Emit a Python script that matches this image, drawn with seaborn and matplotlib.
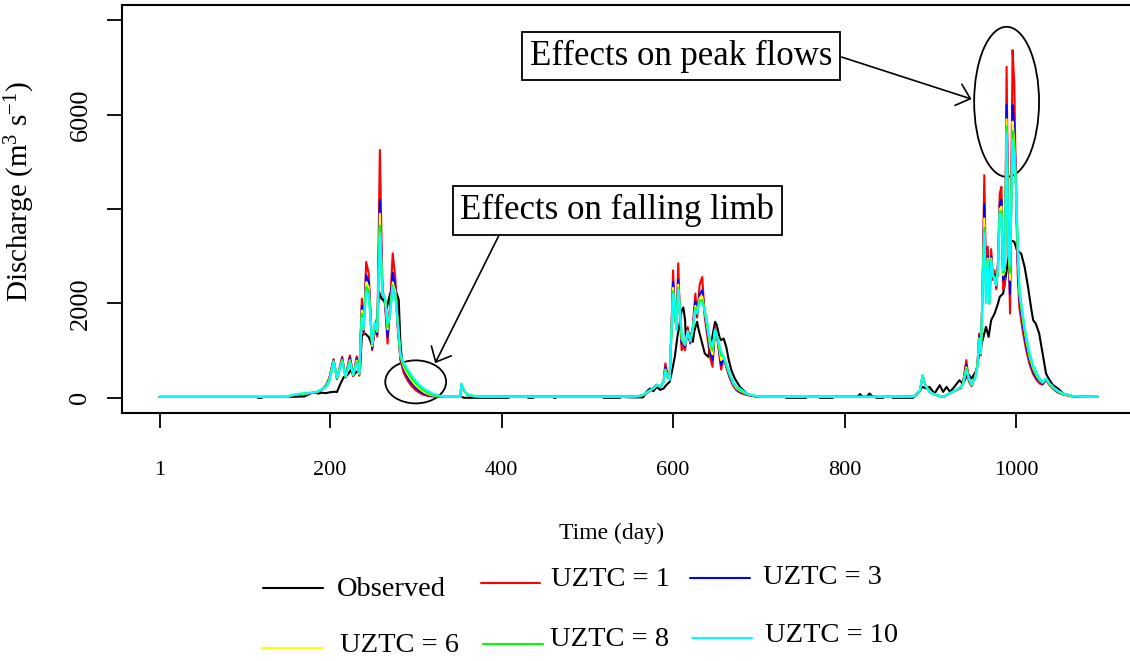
import matplotlib
matplotlib.use("Agg")
import matplotlib.pyplot as plt
from matplotlib.patches import Ellipse
from matplotlib.lines import Line2D
import pandas as pd
import seaborn as sns

# ---------------------------------------------------------------- data
series_labels = ["Observed", "UZTC = 1", "UZTC = 3", "UZTC = 6", "UZTC = 8", "UZTC = 10"]
series_colors = ["#000000", "#FF0000", "#0000FF", "#FFFF00", "#00FF00", "#00FFFF"]

obs_days = [1, 114, 116, 120, 122, 150, 160, 170, 181, 186, 190, 195, 200, 205, 208, 212, 216, 220,
            224, 227, 231, 235, 237, 241, 245, 249, 252, 255, 257, 260, 263, 266, 270, 274, 277, 280,
            282, 284, 288, 292, 297, 303, 310, 318, 325, 335, 354, 356, 408, 410, 430, 431, 437, 438,
            460, 461, 463, 464, 518, 519, 538, 540, 552, 565, 569, 573, 577, 581, 585, 589, 592, 596,
            599, 602, 605, 608, 610, 612, 614, 615, 617, 619, 621, 623, 625, 628, 630, 633, 637, 641,
            645, 649, 651, 654, 656, 659, 662, 665, 668, 672, 678, 686, 693, 700, 730, 732, 755, 757,
            770, 771, 786, 788, 815, 818, 821, 826, 829, 833, 836, 837, 845, 847, 855, 856, 880, 883,
            888, 891, 895, 899, 905, 911, 915, 919, 923, 928, 934, 938, 944, 948, 954, 957, 961, 965,
            968, 971, 975, 979, 981, 985, 988, 992, 994, 998, 1001, 1006, 1010, 1014, 1018, 1020, 1023,
            1027, 1031, 1035, 1038, 1043, 1049, 1055, 1065, 1080, 1095]
q_obs = [20, 20, 2, 2, 20, 20, 25, 30, 127, 90, 110, 100, 120, 130, 125, 300, 445, 480,
         586, 480, 550, 620, 1327, 1360, 1290, 1100, 1450, 1716, 2245, 2100, 2050, 1900, 2215, 2280, 2250, 2080,
         1160, 735, 560, 420, 300, 200, 110, 50, 25, 20, 20, 2, 2, 20, 20, 2, 2, 20,
         20, 2, 2, 20, 20, 2, 2, 20, 10, 10, 128, 198, 140, 233, 170, 200, 270, 340,
         586, 870, 1293, 1610, 1857, 1914, 1646, 1222, 1470, 1222, 1363, 1187, 1434, 1610, 1430, 1222, 940, 869,
         1222, 1610, 1540, 1293, 1222, 1257, 1080, 798, 586, 410, 233, 92, 40, 22, 22, 2, 2, 22,
         22, 2, 2, 22, 22, 80, 22, 22, 92, 22, 22, 2, 2, 22, 22, 2, 2, 60,
         163, 234, 200, 233, 92, 268, 127, 233, 127, 233, 374, 300, 515, 410, 586, 939, 1221, 1504,
         1292, 1645, 1786, 2000, 2140, 2210, 2563, 3057, 3340, 3304, 3128, 3057, 2775, 2351, 1857, 1645, 1574,
         1363, 939, 515, 410, 270, 198, 92, 40, 22, 22]

sim_days = [1, 150, 155, 165, 175, 185, 190, 195, 199, 204, 208, 214, 218, 223, 227, 231, 234, 237,
            239, 242, 245, 249, 252, 255, 258, 261, 264, 267, 270, 273, 276, 279, 282, 286, 290, 295,
            300, 305, 310, 315, 320, 328, 336, 352, 353, 356, 360, 367, 375,
            550, 560, 565, 569, 573, 577, 581, 585, 589, 591, 594, 596, 598, 600, 602, 604, 606, 608,
            610, 612, 614, 617, 620, 623, 626, 628, 631, 634, 637, 640, 643, 646, 649, 652, 656, 659,
            662, 666, 670, 674, 678, 686, 697, 710,
            860, 880, 884, 888, 891, 894, 899, 903, 907, 915, 922, 930, 935, 938, 942, 945, 948, 952,
            955, 957, 959, 961, 963, 965, 967, 969, 971, 973, 975, 977, 979, 981, 983, 985, 987, 989,
            991, 993, 996, 998, 1000, 1002, 1004, 1008, 1012, 1016, 1020, 1024, 1028, 1031, 1035, 1039,
            1044, 1048, 1055, 1065, 1080, 1095]

q_uztc1 = [20, 20, 45, 70, 95, 120, 170, 260, 420, 820, 400, 870, 430, 900, 460, 880, 470, 2100,
           1350, 2880, 2630, 1010, 1450, 1300, 5250, 2300, 2000, 1150, 2000, 3060, 2530, 1440, 800, 520, 380, 250,
           160, 100, 60, 40, 30, 24, 22, 22, 280, 150, 70, 35, 25,
           25, 35, 60, 100, 150, 210, 280, 230, 360, 730, 420, 450, 1400, 2700, 1700, 1500, 2850, 1700,
           1010, 1100, 1010, 1500, 1150, 1505, 2210, 1700, 2400, 2560, 1700, 1300, 870, 657, 1500, 1200, 600, 850,
           650, 420, 260, 160, 110, 60, 30, 22,
           22, 30, 60, 150, 470, 290, 130, 90, 60, 20, 90, 160, 200, 300, 800, 350, 250, 450,
           700, 1363, 900, 2400, 4717, 2500, 3200, 2000, 3150, 2500, 2700, 2300, 2900, 4330, 4470, 2300, 2400, 7010,
           3500, 1786, 7365, 6620, 4300, 2600, 1900, 1400, 1000, 700, 500, 380, 300, 280, 380, 270,
           180, 120, 70, 35, 25, 22]
q_uztc3 = [20, 20, 45, 75, 95, 125, 170, 250, 400, 800, 410, 830, 440, 850, 470, 830, 490, 1950,
           1400, 2600, 2450, 1050, 1500, 1350, 4190, 2250, 2050, 1300, 1900, 2650, 2350, 1500, 850, 600, 450, 310,
           210, 140, 85, 55, 38, 27, 22, 22, 285, 152, 72, 36, 25,
           25, 35, 60, 100, 150, 205, 275, 235, 350, 650, 430, 440, 1380, 2450, 1800, 1480, 2500, 1800,
           1150, 1150, 1080, 1450, 1180, 1460, 2050, 1750, 2200, 2280, 1780, 1400, 1000, 800, 1470, 1230, 700, 860,
           680, 460, 290, 180, 130, 70, 32, 22,
           22, 30, 60, 150, 470, 290, 130, 90, 60, 20, 90, 160, 210, 290, 700, 380, 260, 430,
           680, 1300, 920, 2300, 4100, 2300, 3000, 2000, 3000, 2550, 2600, 2350, 2800, 4100, 4200, 2500, 2600, 6200,
           3400, 2200, 6200, 5700, 4505, 2900, 2100, 1550, 1100, 780, 560, 420, 330, 300, 390, 280,
           190, 130, 75, 38, 25, 22]
q_uztc6 = [20, 20, 50, 80, 100, 130, 175, 240, 380, 780, 420, 800, 450, 800, 480, 790, 500, 1850,
           1450, 2450, 2350, 1100, 1550, 1400, 3900, 2220, 2100, 1450, 1850, 2450, 2250, 1550, 880, 650, 510, 370,
           260, 180, 115, 75, 50, 30, 23, 22, 290, 156, 75, 38, 25,
           25, 35, 62, 105, 155, 200, 270, 240, 345, 600, 440, 420, 1370, 2330, 1850, 1460, 2400, 1830,
           1250, 1180, 1120, 1420, 1200, 1450, 1950, 1780, 2120, 2150, 1820, 1480, 1100, 920, 1450, 1250, 800, 865,
           700, 490, 310, 200, 150, 80, 34, 22,
           22, 30, 60, 160, 470, 285, 130, 90, 60, 20, 90, 160, 215, 280, 650, 400, 270, 410,
           670, 1260, 930, 2250, 3800, 2200, 2950, 2000, 2950, 2580, 2550, 2380, 2750, 4000, 4050, 2600, 2700, 5900,
           3300, 2500, 5850, 5400, 4450, 3100, 2200, 1650, 1200, 850, 620, 470, 360, 320, 400, 290,
           200, 140, 80, 40, 25, 22]
q_uztc8 = [20, 20, 55, 85, 100, 130, 180, 230, 360, 770, 425, 780, 455, 770, 490, 760, 510, 1780,
           1480, 2350, 2280, 1130, 1580, 1430, 3650, 2210, 2120, 1500, 1800, 2380, 2150, 1580, 900, 690, 560, 420,
           310, 220, 150, 100, 65, 36, 25, 22, 295, 160, 80, 40, 25,
           25, 38, 64, 105, 160, 200, 270, 240, 340, 580, 445, 400, 1365, 2260, 1900, 1450, 2330, 1850,
           1310, 1200, 1140, 1400, 1210, 1440, 1900, 1790, 2060, 2070, 1840, 1540, 1170, 1000, 1440, 1260, 900, 868,
           715, 505, 330, 215, 170, 85, 35, 22,
           22, 30, 60, 170, 475, 278, 130, 90, 60, 20, 90, 160, 220, 275, 620, 410, 280, 400,
           660, 1240, 940, 2220, 3600, 2100, 2920, 2000, 2920, 2600, 2500, 2400, 2720, 3950, 3950, 2650, 2750, 5750,
           3250, 2650, 5650, 5250, 4450, 3200, 2250, 1700, 1250, 900, 660, 500, 380, 330, 405, 300,
           210, 150, 85, 42, 25, 22]
q_uztc10 = [20, 25, 60, 90, 100, 130, 185, 220, 340, 750, 430, 760, 460, 740, 500, 730, 520, 1700,
            1500, 2250, 2200, 1150, 1600, 1450, 3480, 2200, 2150, 1575, 1750, 2350, 2100, 1600, 920, 740, 620, 480,
            360, 260, 190, 140, 90, 45, 28, 24, 305, 170, 85, 42, 25,
            25, 40, 65, 110, 160, 198, 270, 245, 340, 560, 450, 380, 1363, 2210, 1930, 1434, 2280, 1860,
            1363, 1222, 1150, 1400, 1222, 1434, 1860, 1800, 2000, 2000, 1860, 1575, 1222, 1081, 1434, 1270, 1000, 869,
            728, 516, 340, 230, 198, 92, 36, 22,
            22, 30, 60, 180, 481, 269, 128, 92, 60, 22, 92, 162, 230, 268, 586, 420, 290, 390,
            656, 1221, 950, 2200, 3480, 2000, 2900, 2000, 2900, 2634, 2450, 2422, 2700, 3905, 3850, 2700, 2800, 5600,
            3200, 2800, 5460, 5100, 4450, 3300, 2300, 1750, 1300, 950, 700, 540, 400, 340, 410, 304,
            220, 162, 90, 45, 25, 22]

x_ticks = [1, 200, 400, 600, 800, 1000]
y_ticks = [0, 2000, 4000, 6000, 8000]
y_tick_labels = ["0", "2000", "", "6000", ""]

# ---------------------------------------------------------------- style
sns.set_theme(style="white")
plt.rcParams["font.family"] = ["Liberation Serif", "DejaVu Serif"]
plt.rcParams["mathtext.fontset"] = "custom"
plt.rcParams["mathtext.rm"] = "Liberation Serif"
plt.rcParams["mathtext.it"] = "Liberation Serif:italic"

W, H = 1130, 661
fig = plt.figure(figsize=(W / 100, H / 100), dpi=100)
fig.patch.set_facecolor("white")
# plot box: left 122 px, right 1135 px (runs just past the right edge), top 5 px, bottom 413 px
ax = fig.add_axes([122 / W, (H - 413) / H, (1135 - 122) / W, (413 - 5) / H])

frames = [pd.DataFrame({"day": obs_days, "q": q_obs, "series": series_labels[0]})]
for name, vals in zip(series_labels[1:], [q_uztc1, q_uztc3, q_uztc6, q_uztc8, q_uztc10]):
    frames.append(pd.DataFrame({"day": sim_days, "q": vals, "series": name}))
df = pd.concat(frames, ignore_index=True)

sns.lineplot(data=df, x="day", y="q", hue="series", hue_order=series_labels,
             palette=series_colors, estimator=None, sort=False, legend=False,
             linewidth=1.5, ax=ax)

ax.set_xlim(-42.76, 1138.76)
ax.set_ylim(-320, 8320)
ax.set_xticks(x_ticks)
ax.set_xticklabels([str(t) for t in x_ticks])
ax.set_yticks(y_ticks)
ax.set_yticklabels(y_tick_labels, rotation=90, va="center")
ax.tick_params(axis="both", which="major", bottom=True, left=True, direction="out",
               length=10.5, width=1.3, color="black", labelcolor="black")
ax.tick_params(axis="x", pad=24, labelsize=16)
ax.tick_params(axis="y", pad=11.5, labelsize=19)
for s in ax.spines.values():
    s.set_visible(True)
    s.set_color("black")
    s.set_linewidth(1.5)

ax.set_xlabel("Time (day)", fontsize=17, color="black")
ax.xaxis.set_label_coords(0.4837, -0.268)
ax.set_ylabel(r"Discharge (m$\mathregular{^{3}}$ s$\mathregular{^{-1}}$)", fontsize=21, color="black")
ax.yaxis.set_label_coords(-0.084, 0.543)

# ---------------------------------------------------------------- annotations
ax.add_patch(Ellipse((989, 6270), 75.7, 3177, fill=False, edgecolor="black", linewidth=1.3))
ax.add_patch(Ellipse((299.8, 339), 71, 911, fill=False, edgecolor="black", linewidth=1.3))

box = dict(boxstyle="square,pad=0.22", facecolor="white", edgecolor="black", linewidth=1.3)
ax.text(609.1, 7234, "Effects on peak flows", ha="center", va="center", fontsize=25,
        color="black", bbox=box, zorder=5)
ax.text(535.1, 3965, "Effects on falling limb", ha="center", va="center", fontsize=25,
        color="black", bbox=box, zorder=5)

arrow = dict(arrowstyle="->,head_length=0.45,head_width=0.4", color="black", linewidth=1.2,
             shrinkA=0, shrinkB=0, mutation_scale=20)
ax.annotate("", xy=(948.1, 6328), xytext=(796.7, 7217), arrowprops=arrow)
ax.annotate("", xy=(322.5, 735), xytext=(398.2, 3489), arrowprops=arrow)

# ---------------------------------------------------------------- legend (two staggered rows)
def fx(px):
    return px / W


def fy(py):
    return 1 - py / H


legend_rows = [
    (0, 263, 323, 588, 337, 590),
    (1, 481, 540, 583, 551, 580),
    (2, 690, 750, 578, 763, 578),
    (3, 262, 322, 648, 340, 645),
    (4, 483, 543, 644, 550, 640),
    (5, 692, 752, 638, 765, 635),
]
for idx, x0, x1, yl, xt, yt in legend_rows:
    fig.add_artist(Line2D([fx(x0), fx(x1)], [fy(yl), fy(yl)], color=series_colors[idx],
                          linewidth=1.5, transform=fig.transFigure))
    fig.text(fx(xt), fy(yt), series_labels[idx], ha="left", va="center", fontsize=20.5, color="black")

fig.savefig("out.png", dpi=100)
